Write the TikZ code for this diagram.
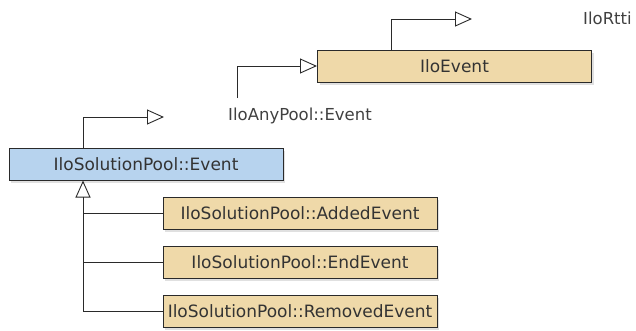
\documentclass[tikz,border=0pt]{standalone}
\usepackage{fontspec}
\setmainfont{DejaVu Sans}
\usetikzlibrary{arrows.meta,shadows}
\definecolor{classtan}{HTML}{EFD9A9}
\definecolor{classblue}{HTML}{B7D3EE}
\definecolor{classline}{HTML}{2A2A2A}
\newcommand{\umlclass}[4]{
	\node [classbox, fill=#4] (#1) at (#2) {#3};}

\tikzset{
	classbox/.style={draw=classline, line width=1pt, minimum width=274pt, minimum height=32pt,
		inner sep=0pt, font=\fontsize{17}{19}\selectfont, text=black!80,
		drop shadow={shadow xshift=2pt, shadow yshift=-3pt, fill=black!35, opacity=0.35}},
	inherit/.style={draw=classline, line width=0.9pt,
		-{Triangle[open, length=17pt, width=15pt, line width=0.9pt]}},
	extname/.style={font=\fontsize{16.5}{18}\selectfont, text=black!75, inner sep=0pt, anchor=base west}
}

\begin{document}
\begin{tikzpicture}[x=1pt,y=-1pt]
	\useasboundingbox (0,0) rectangle (636,330);
	\umlclass{event}{454.5,66}{IloEvent}{classtan}
	\umlclass{solevent}{146,164}{IloSolutionPool::Event}{classblue}
	\umlclass{added}{300,213}{IloSolutionPool::AddedEvent}{classtan}
	\umlclass{endev}{300,262}{IloSolutionPool::EndEvent}{classtan}
	\umlclass{removed}{300,311}{IloSolutionPool::RemovedEvent}{classtan}
	\node [extname] (rtti) at (583,24) {IloRtti};
	\node [extname] (anypool) at (228,120) {IloAnyPool::Event};
	\coordinate (rttiend) at (472,19);
	\coordinate (anyend) at (164,117);
	\coordinate (anystart) at (237,98);
	\coordinate (trunk) at (83,0);
	\draw [inherit] (event.north -| {391,0}) |- (rttiend);
	\draw [inherit] (anystart) |- (event.west);
	\draw [inherit] (solevent.north -| trunk) |- (anyend);
	\draw [inherit] (removed.west) -| (solevent.south -| trunk);
	\draw [classline, line width=0.9pt] (added.west) -- (added.west -| trunk);
	\draw [classline, line width=0.9pt] (endev.west) -- (endev.west -| trunk);
\end{tikzpicture}
\end{document}
